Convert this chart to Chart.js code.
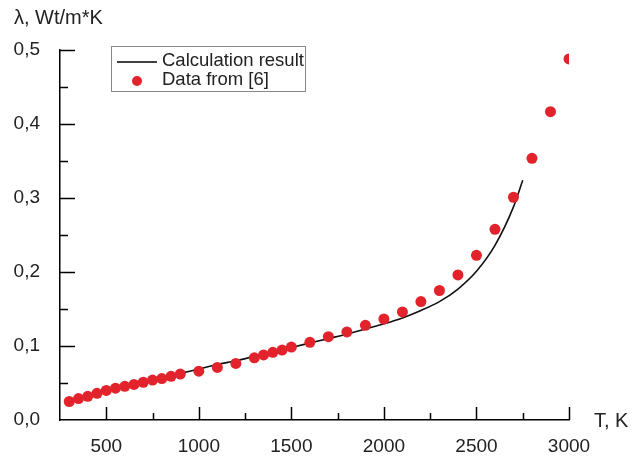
<!DOCTYPE html>
<html>
<head>
<meta charset="utf-8">
<script src="https://cdn.jsdelivr.net/npm/chart.js@4"></script>
<style>
  html, body { margin: 0; padding: 0; background: #fff; }
  #wrap { width: 634px; height: 458px; position: relative; }
</style>
</head>
<body>
<div id="wrap"><canvas id="chart"></canvas></div>
<script>
// calculation result (line)
const calcT = [300, 400, 500, 600, 700, 800, 900, 1000, 1100, 1200, 1300, 1400, 1500, 1600,
  1700, 1800, 1900, 2000, 2100, 2200, 2300, 2400, 2500, 2600, 2700, 2750];
const calcLambda = [0.026, 0.033, 0.039, 0.045, 0.051, 0.057, 0.063, 0.069, 0.075, 0.080, 0.086,
  0.092, 0.098, 0.104, 0.110, 0.116, 0.123, 0.130, 0.138, 0.148, 0.160, 0.177, 0.201, 0.236, 0.288, 0.324];

// data from [6] (points)
const dataT = [300, 350, 400, 450, 500, 550, 600, 650, 700, 750, 800, 850, 900, 1000, 1100, 1200,
  1300, 1350, 1400, 1450, 1500, 1600, 1700, 1800, 1900, 2000, 2100, 2200, 2300, 2400, 2500,
  2600, 2700, 2800, 2900, 3000];
const dataLambda = [0.025, 0.029, 0.032, 0.036, 0.040, 0.043, 0.0455, 0.048, 0.051, 0.054, 0.056,
  0.059, 0.062, 0.066, 0.071, 0.0765, 0.084, 0.088, 0.0915, 0.0945, 0.0985, 0.105, 0.1126, 0.119,
  0.128, 0.1365, 0.146, 0.160, 0.175, 0.196, 0.2226, 0.2577, 0.301, 0.3536, 0.4166, 0.488];

const xTicks = [500, 1000, 1500, 2000, 2500, 3000];
const yTicks = [0, 0.1, 0.2, 0.3, 0.4, 0.5];
const labels = ['Calculation result', 'Data from [6]'];

const FONT = '"Liberation Sans", Arial, sans-serif';
const RED = '#e3232b';

// inward ticks, axis titles and the boxed legend
const extras = {
  id: 'extras',
  afterDraw(chart) {
    const ctx = chart.ctx;
    const xs = chart.scales.x, ys = chart.scales.y;
    const area = chart.chartArea;
    ctx.save();
    ctx.strokeStyle = '#000';
    ctx.lineWidth = 1.5;
    ctx.beginPath();
    for (let v = 500; v <= 3000; v += 250) {
      const px = Math.round(xs.getPixelForValue(v)) + 0.5;
      const len = v % 500 === 0 ? 13 : 7;
      ctx.moveTo(px, area.bottom);
      ctx.lineTo(px, area.bottom - len);
    }
    for (let i = 1; i <= 10; i++) {
      const v = i * 0.05;
      const py = Math.round(ys.getPixelForValue(v)) + 0.5;
      const len = i % 2 === 0 ? 15 : 8;
      ctx.moveTo(area.left, py);
      ctx.lineTo(area.left + len, py);
    }
    ctx.stroke();

    ctx.fillStyle = '#222';
    ctx.font = '20px ' + FONT;
    ctx.textBaseline = 'middle';
    ctx.textAlign = 'left';
    ctx.fillText('λ, Wt/m*K', 14, 18);
    ctx.fillText('T, K', 594, 421);

    // legend
    ctx.strokeStyle = '#888';
    ctx.lineWidth = 1;
    ctx.strokeRect(111.5, 46.5, 194, 45);
    ctx.strokeStyle = '#000';
    ctx.lineWidth = 1.5;
    ctx.beginPath();
    ctx.moveTo(117, 62);
    ctx.lineTo(157, 62);
    ctx.stroke();
    ctx.fillStyle = RED;
    ctx.beginPath();
    ctx.arc(137, 81, 5, 0, Math.PI * 2);
    ctx.fill();
    ctx.fillStyle = '#222';
    ctx.font = '18.5px ' + FONT;
    ctx.fillText(labels[0], 162, 61);
    ctx.fillText(labels[1], 162, 80);
    ctx.restore();
  }
};

new Chart(document.getElementById('chart'), {
  type: 'scatter',
  data: {
    datasets: [
      {
        label: labels[0],
        type: 'line',
        data: calcT.map((t, i) => ({ x: t, y: calcLambda[i] })),
        borderColor: '#111',
        borderWidth: 1.6,
        pointRadius: 0,
        fill: false,
        cubicInterpolationMode: 'monotone',
        order: 2
      },
      {
        label: labels[1],
        data: dataT.map((t, i) => ({ x: t, y: dataLambda[i] })),
        backgroundColor: RED,
        borderColor: RED,
        borderWidth: 0,
        pointRadius: 5.5,
        clip: { left: 10, right: 0, top: 10, bottom: 10 },
        order: 1
      }
    ]
  },
  options: {
    responsive: true,
    maintainAspectRatio: false,
    animation: false,
    layout: { padding: { left: 0, right: 65, top: 50, bottom: 0 } },
    plugins: { legend: { display: false }, tooltip: { enabled: false } },
    scales: {
      x: {
        type: 'linear',
        min: 250,
        max: 3000,
        afterBuildTicks: s => { s.ticks = xTicks.map(v => ({ value: v })); },
        afterFit: s => { s.height = 38; },
        grid: { display: false },
        border: { display: true, color: '#000', width: 1.5 },
        ticks: {
          color: '#222',
          font: { family: FONT, size: 19 },
          padding: 7,
          maxRotation: 0,
          callback: v => String(v)
        }
      },
      y: {
        min: 0,
        max: 0.5,
        afterBuildTicks: s => { s.ticks = yTicks.map(v => ({ value: v })); },
        afterFit: s => { s.width = 60; },
        grid: { display: false },
        border: { display: true, color: '#000', width: 1.5 },
        ticks: {
          color: '#222',
          font: { family: FONT, size: 19 },
          padding: 12,
          callback: v => v.toFixed(1).replace('.', ',')
        }
      }
    }
  },
  plugins: [extras]
});
</script>
</body>
</html>
